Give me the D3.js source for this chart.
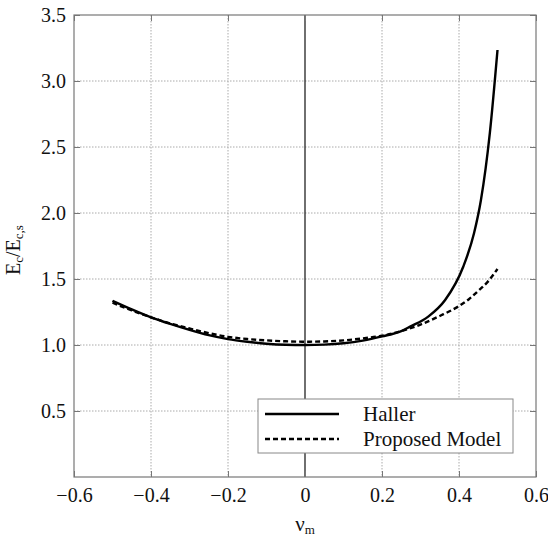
<!DOCTYPE html>
<html>
<head>
<meta charset="utf-8">
<script src="https://cdn.jsdelivr.net/npm/d3@7"></script>
<style>
  body { margin: 0; background: #fff; }
  text { font-family: "Liberation Serif", "DejaVu Serif", serif; fill: #111; }
</style>
</head>
<body>
<svg id="chart" width="548" height="541"></svg>
<script>

// values
let haller_nu = [-0.5, -0.45, -0.4, -0.35, -0.3, -0.25, -0.2, -0.15, -0.1, -0.05, 0,
                 0.05, 0.1, 0.15, 0.2, 0.25, 0.273, 0.32, 0.364, 0.411, 0.439, 0.457, 0.48, 0.5];

let haller = [1.335, 1.27, 1.21, 1.16, 1.115, 1.075, 1.045, 1.025, 1.01, 1.002, 1.0,
              1.003, 1.013, 1.033, 1.065, 1.105, 1.139, 1.215, 1.341, 1.593, 1.846, 2.098, 2.603, 3.235];

let proposed_nu = [-0.5, -0.45, -0.4, -0.35, -0.3, -0.25, -0.2, -0.15, -0.1, -0.05, 0,
                   0.05, 0.1, 0.15, 0.2, 0.25, 0.3, 0.35, 0.4, 0.425, 0.45, 0.475, 0.5];

let proposed = [1.32, 1.262, 1.21, 1.163, 1.125, 1.09, 1.062, 1.045, 1.035, 1.028, 1.025,
                1.027, 1.035, 1.05, 1.07, 1.105, 1.155, 1.22, 1.295, 1.345, 1.41, 1.48, 1.576];

let x_ticks = [-0.6, -0.4, -0.2, 0, 0.2, 0.4, 0.6],
    y_ticks = [0.5, 1.0, 1.5, 2.0, 2.5, 3.0, 3.5];

let series = [
    { name: 'Haller', nu: haller_nu, values: haller, dash: null },
    { name: 'Proposed Model', nu: proposed_nu, values: proposed, dash: '5,3' }
];

let svg = d3.select('#chart'),
    x0 = 74,  // plot left
    x1 = 536, // plot right
    y0 = 15,  // plot top
    y1 = 477; // plot bottom

let x = d3.scaleLinear().domain([-0.6, 0.6]).range([x0, x1]),
    y = d3.scaleLinear().domain([0, 3.5]).range([y1, y0]);

let grid = svg.append('g');

// dotted grid
grid.selectAll('.vgrid')
    .data(x_ticks.filter(d => d !== 0 && d > -0.6 && d < 0.6))
    .enter()
    .append('line')
    .attr('x1', d => x(d)).attr('x2', d => x(d))
    .attr('y1', y0).attr('y2', y1)
    .attr('stroke', '#aaa')
    .attr('stroke-width', 1)
    .attr('stroke-dasharray', '1.5,1.5');

grid.selectAll('.hgrid')
    .data(y_ticks.filter(d => d < 3.5))
    .enter()
    .append('line')
    .attr('x1', x0).attr('x2', x1)
    .attr('y1', d => y(d)).attr('y2', d => y(d))
    .attr('stroke', '#aaa')
    .attr('stroke-width', 1)
    .attr('stroke-dasharray', '1.5,1.5');

// solid line at nu = 0
svg.append('line')
    .attr('x1', x(0)).attr('x2', x(0))
    .attr('y1', y0).attr('y2', y1)
    .attr('stroke', '#222')
    .attr('stroke-width', 1.3);

// axes with inward ticks
let x_axis = d3.axisBottom(x).tickValues(x_ticks).tickSizeInner(-6).tickSizeOuter(0)
        .tickPadding(11).tickFormat(d => d === 0 ? '0' : d3.format('.1f')(d).replace('-', '\u2212')),
    y_axis = d3.axisLeft(y).tickValues(y_ticks).tickSizeInner(-6).tickSizeOuter(0)
        .tickPadding(8).tickFormat(d3.format('.1f'));

function style_axis (g) {
    g.select('.domain').remove();
    g.selectAll('.tick line').attr('stroke', '#777');
    g.selectAll('.tick text')
        .attr('font-size', 20)
        .attr('font-family', '"Liberation Serif", serif')
        .attr('fill', '#111');
}

svg.append('g')
    .attr('transform', 'translate(0,' + y1 + ')')
    .call(x_axis)
    .call(style_axis);

svg.append('g')
    .attr('transform', 'translate(' + x0 + ',0)')
    .call(y_axis)
    .call(style_axis);

// right side ticks
svg.append('g')
    .attr('transform', 'translate(' + x1 + ',0)')
    .call(d3.axisRight(y).tickValues(y_ticks).tickSizeInner(-6).tickSizeOuter(0).tickFormat(''))
    .call(style_axis);

// top ticks
svg.append('g')
    .attr('transform', 'translate(0,' + y0 + ')')
    .call(d3.axisTop(x).tickValues(x_ticks).tickSizeInner(-6).tickSizeOuter(0).tickFormat(''))
    .call(style_axis);

// frame
svg.append('rect')
    .attr('x', x0).attr('y', y0)
    .attr('width', x1 - x0).attr('height', y1 - y0)
    .attr('fill', 'none')
    .attr('stroke', '#777')
    .attr('stroke-width', 1.2);

// curves
let line = d3.line().curve(d3.curveMonotoneX);

svg.selectAll('.curve')
    .data(series)
    .enter()
    .append('path')
    .attr('d', s => line(s.nu.map((v, i) => [x(v), y(s.values[i])])))
    .attr('fill', 'none')
    .attr('stroke', '#000')
    .attr('stroke-width', 2.4)
    .attr('stroke-dasharray', s => s.dash);

// legend
let legend = svg.append('g');

legend.append('rect')
    .attr('x', 258).attr('y', 399)
    .attr('width', 255).attr('height', 54)
    .attr('fill', '#fff')
    .attr('stroke', '#888')
    .attr('stroke-width', 1);

let items = legend.selectAll('.item')
    .data(series)
    .enter()
    .append('g')
    .attr('transform', (s, i) => 'translate(0,' + (414 + i * 25) + ')');

items.append('line')
    .attr('x1', 265).attr('x2', 339)
    .attr('y1', 0).attr('y2', 0)
    .attr('stroke', '#000')
    .attr('stroke-width', 2.4)
    .attr('stroke-dasharray', s => s.dash);

items.append('text')
    .attr('x', 363)
    .attr('y', 7)
    .attr('font-size', 21)
    .text(s => s.name);

// axis labels
let xl = svg.append('text')
    .attr('x', x(0))
    .attr('y', 531)
    .attr('text-anchor', 'middle')
    .attr('font-size', 21);
xl.append('tspan').text('\u03bd');
xl.append('tspan').attr('font-size', 13).attr('dy', 3).text('m');

let yl = svg.append('text')
    .attr('transform', 'translate(20,250) rotate(-90)')
    .attr('text-anchor', 'middle')
    .attr('font-size', 20);
yl.append('tspan').text('E');
yl.append('tspan').attr('font-size', 13).attr('dy', 3).text('c');
yl.append('tspan').attr('dy', -3).text('/E');
yl.append('tspan').attr('font-size', 13).attr('dy', 3).text('c,s');

</script>
</body>
</html>
